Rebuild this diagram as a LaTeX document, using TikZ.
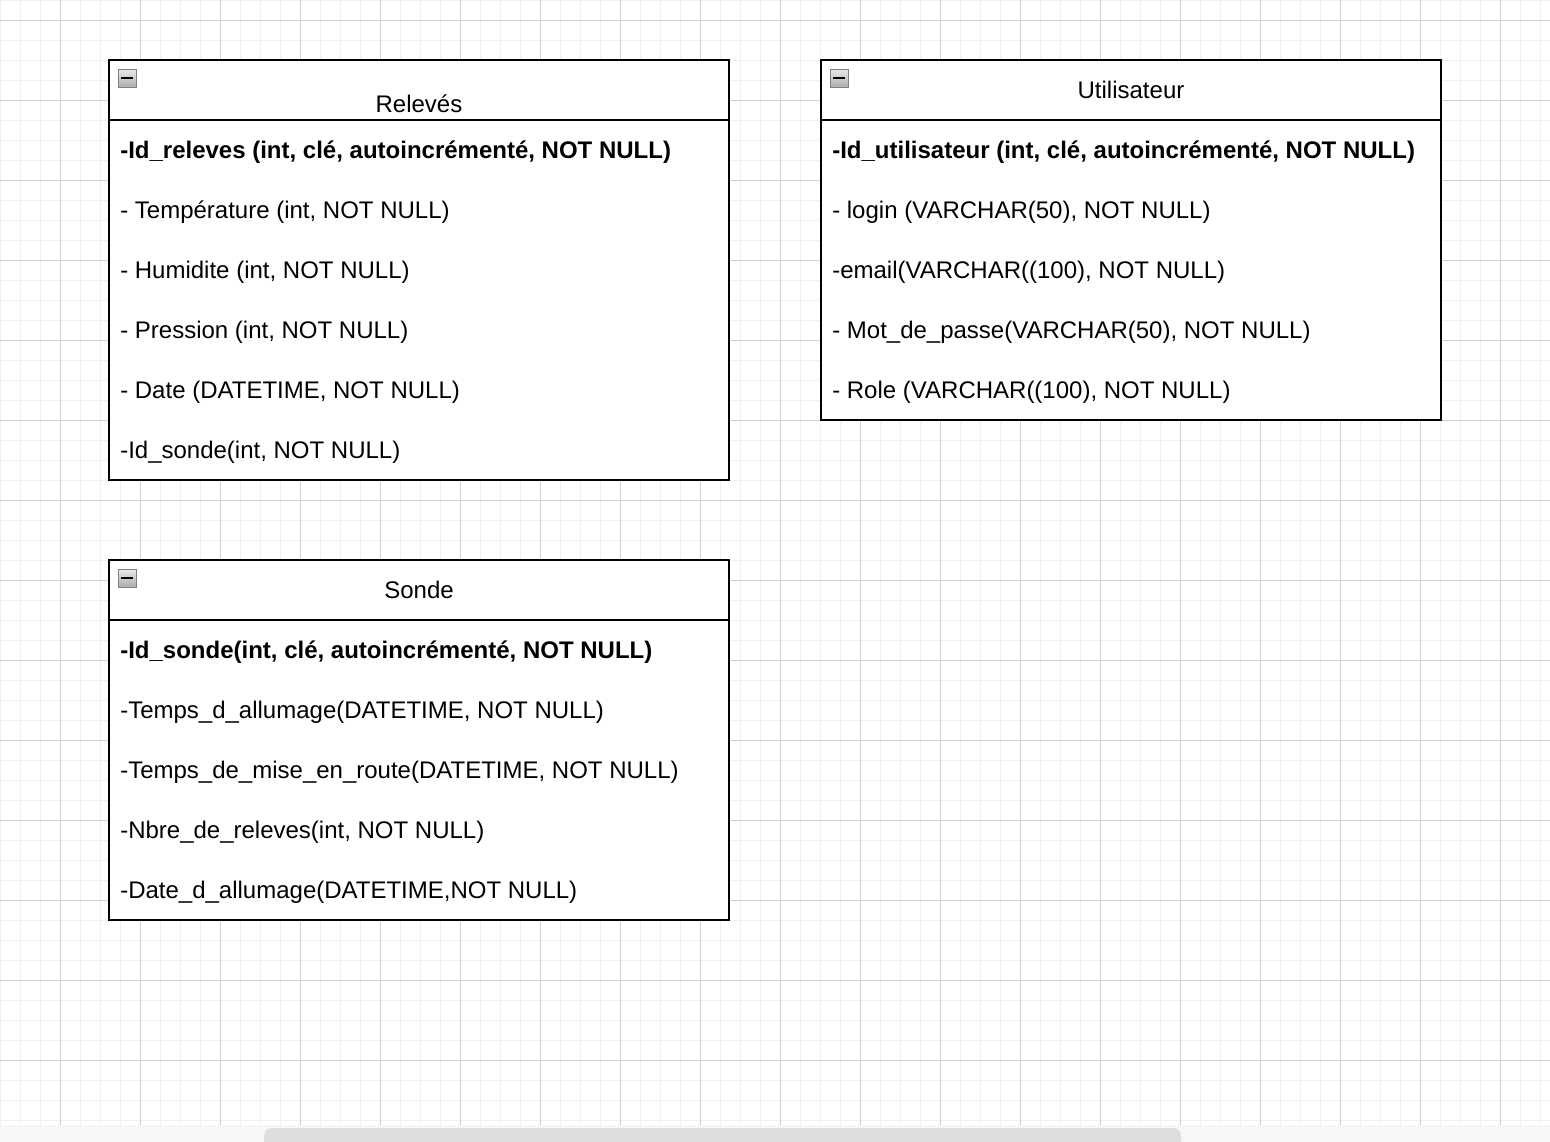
\documentclass[tikz,border=0pt]{standalone}
\usepackage{fontspec}
\setmainfont{Liberation Sans}
\begin{document}
\begin{tikzpicture}[x=0.75pt,y=-0.75pt,
  minorgrid/.style={draw=black!6,line width=0.75pt},
  majorgrid/.style={draw=black!19,line width=0.75pt},
  tbl/.style={draw=black,line width=1.5pt},
  field/.style={anchor=base west,inner sep=0pt,font=\fontsize{18}{22}\selectfont},
  keyfield/.style={field,font=\fontsize{18}{22}\selectfont\bfseries},
  title/.style={anchor=base,inner sep=0pt,font=\fontsize{18}{22}\selectfont},
  icon/.style={draw=black!50,line width=0.75pt,top color=black!8,bottom color=black!32}]
\useasboundingbox (0,0) rectangle (1550,1142);
\fill[white] (0,0) rectangle (1550,1142);
% grid
\foreach \x in {0,20,...,1540} \draw[minorgrid] (\x,0) -- (\x,1125);
\foreach \y in {0,20,...,1120} \draw[minorgrid] (0,\y) -- (1550,\y);
\foreach \x in {60,140,...,1540} \draw[majorgrid] (\x,0) -- (\x,1125);
\foreach \y in {20,100,...,1120} \draw[majorgrid] (0,\y) -- (1550,\y);
% bottom bar + scrollbar
\fill[black!3] (0,1125) rectangle (1550,1142);
\fill[black!13,rounded corners=6pt] (264,1128) rectangle (1181,1150);
\useasboundingbox (0,0) rectangle (1550,1142);

% ---- Relevés
\fill[white] (109,60) rectangle (729,480);
\draw[tbl] (109,60) rectangle (729,480);
\draw[tbl] (109,120) -- (729,120);
\node[inner sep=0pt] (ricon) at (127,78) {};
\path[icon] (118,69) rectangle (136,87);
\draw[line width=1.5pt] (121,78) -- (133,78);
\node[title] (rtitle) at (419,112) {Relevés};
\node[keyfield] (r1) at (120,158.5) {-Id\_releves (int, clé, autoincrémenté, NOT NULL)};
\node[field] (r2) at (120,218.5) {- Température (int, NOT NULL)};
\node[field] (r3) at (120,278.5) {- Humidite (int, NOT NULL)};
\node[field] (r4) at (120,338.5) {- Pression (int, NOT NULL)};
\node[field] (r5) at (120,398.5) {- Date (DATETIME, NOT NULL)};
\node[field] (r6) at (120,458.5) {-Id\_sonde(int, NOT NULL)};

% ---- Utilisateur
\fill[white] (821,60) rectangle (1441,420);
\draw[tbl] (821,60) rectangle (1441,420);
\draw[tbl] (821,120) -- (1441,120);
\node[inner sep=0pt] (uicon) at (839,78) {};
\path[icon] (830,69) rectangle (848,87);
\draw[line width=1.5pt] (833,78) -- (845,78);
\node[title] (utitle) at (1131,98) {Utilisateur};
\node[keyfield] (u1) at (832,158.5) {-Id\_utilisateur (int, clé, autoincrémenté, NOT NULL)};
\node[field] (u2) at (832,218.5) {- login (VARCHAR(50), NOT NULL)};
\node[field] (u3) at (832,278.5) {-email(VARCHAR((100), NOT NULL)};
\node[field] (u4) at (832,338.5) {- Mot\_de\_passe(VARCHAR(50), NOT NULL)};
\node[field] (u5) at (832,398.5) {- Role (VARCHAR((100), NOT NULL)};

% ---- Sonde
\fill[white] (109,560) rectangle (729,920);
\draw[tbl] (109,560) rectangle (729,920);
\draw[tbl] (109,620) -- (729,620);
\node[inner sep=0pt] (sicon) at (127,578) {};
\path[icon] (118,569) rectangle (136,587);
\draw[line width=1.5pt] (121,578) -- (133,578);
\node[title] (stitle) at (419,598) {Sonde};
\node[keyfield] (s1) at (120,658.5) {-Id\_sonde(int, clé, autoincrémenté, NOT NULL)};
\node[field] (s2) at (120,718.5) {-Temps\_d\_allumage(DATETIME, NOT NULL)};
\node[field] (s3) at (120,778.5) {-Temps\_de\_mise\_en\_route(DATETIME, NOT NULL)};
\node[field] (s4) at (120,838.5) {-Nbre\_de\_releves(int, NOT NULL)};
\node[field] (s5) at (120,898.5) {-Date\_d\_allumage(DATETIME,NOT NULL)};
\end{tikzpicture}
\end{document}
